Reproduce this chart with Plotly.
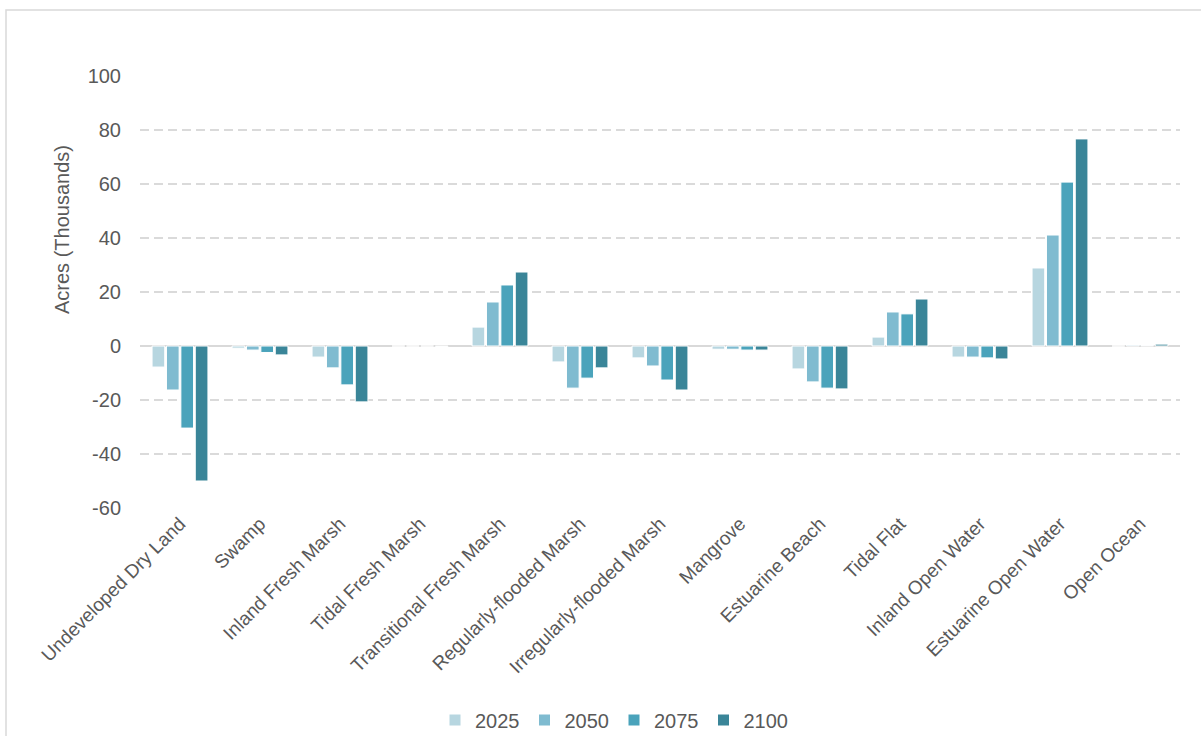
import plotly.graph_objects as go

categories = ["Undeveloped Dry Land", "Swamp", "Inland Fresh Marsh", "Tidal Fresh Marsh",
              "Transitional Fresh Marsh", "Regularly-flooded Marsh", "Irregularly-flooded Marsh",
              "Mangrove", "Estuarine Beach", "Tidal Flat", "Inland Open Water",
              "Estuarine Open Water", "Open Ocean"]
years = ["2025", "2050", "2075", "2100"]
v2025 = [-7.8, -0.8, -4.1, 0.0, 7.0, -5.9, -4.4, -1.2, -8.5, 3.3, -4.1, 28.9, 0.0]
v2050 = [-16.3, -1.5, -8.1, 0.0, 16.3, -15.6, -7.4, -1.2, -13.3, 12.6, -4.1, 41.1, 0.3]
v2075 = [-30.4, -2.4, -14.4, 0.0, 22.6, -11.9, -12.6, -1.5, -15.6, 11.9, -4.4, 60.7, 0.2]
v2100 = [-50.0, -3.3, -20.7, -0.2, 27.4, -8.1, -16.3, -1.5, -15.9, 17.4, -4.8, 76.7, 0.7]
series = [v2025, v2050, v2075, v2100]
colors = ["#b7d6e0", "#7fbbd0", "#4aa3bb", "#3a8598"]
yticks = [-60, -40, -20, 0, 20, 40, 60, 80, 100]
yticktext = ["-60", "-40", "-20", "0", "20", "40", "60", "80", "100"]

fig = go.Figure()
for y, vals, c in zip(years, series, colors):
    fig.add_trace(go.Bar(x=categories, y=vals, name=y, marker=dict(color=c, line=dict(color="white", width=1))))

L, R, T, B = 140, 21, 76, 228
W, H = 1201, 736
pw, ph = W - L - R, H - T - B
ybot = H - B  # pixel row of plot bottom

fig.update_layout(
    width=W, height=H, barmode="group", bargap=0.28, bargroupgap=0.12,
    margin=dict(l=L, r=R, t=T, b=B, autoexpand=False),
    paper_bgcolor="white", plot_bgcolor="white",
    font=dict(family="Liberation Sans, Arial, sans-serif", color="#595959", size=20),
    legend=dict(orientation="h", x=(614 - L) / pw, xanchor="center", y=(ybot - 720) / ph,
                yanchor="middle", font=dict(size=20, color="#595959"), traceorder="normal"),
    xaxis=dict(tickangle=-45, tickfont=dict(size=19), showline=False, ticks="",
               showgrid=False, automargin=False),
    yaxis=dict(range=[-60, 100], tickvals=yticks, ticktext=yticktext, showgrid=True,
               gridcolor="#dadada", griddash="9px,5px", gridwidth=2, zeroline=True,
               zerolinecolor="#d9d9d9", zerolinewidth=2, ticks="", tickfont=dict(size=20),
               ticklabelstandoff=18, automargin=False),
    annotations=[dict(text="Acres (Thousands)", xref="paper", yref="paper",
                      x=(62 - L) / pw, y=(ybot - 230) / ph, xanchor="center", yanchor="middle",
                      textangle=-90, showarrow=False, font=dict(size=20, color="#595959"))],
    shapes=[dict(type="rect", xref="paper", yref="paper",
                 x0=(6 - L) / pw, x1=(1215 - L) / pw,
                 y0=(ybot - 760) / ph, y1=(ybot - 10) / ph,
                 line=dict(color="#d9d9d9", width=1.5), layer="below")],
)
fig.write_html("out.html")
